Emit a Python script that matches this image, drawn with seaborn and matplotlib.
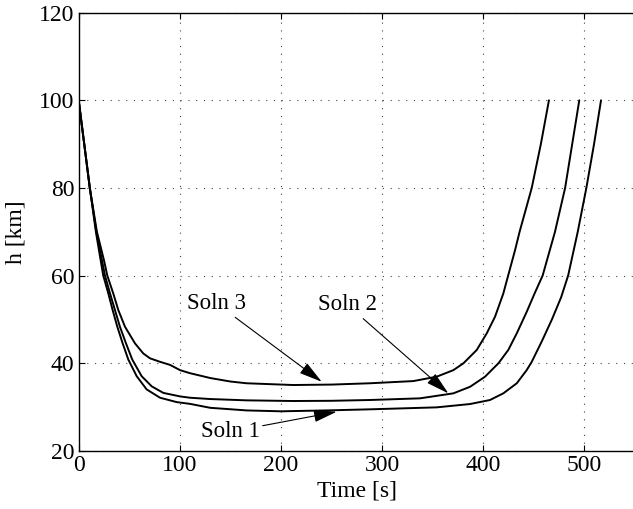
import matplotlib
matplotlib.use("Agg")
import matplotlib.pyplot as plt
import seaborn as sns
import pandas as pd

# Altitude histories of three trajectory solutions
t_soln1 = [0, 5.5, 11, 17, 21.7, 24.3, 29.3, 33.6, 38.2, 43.5, 49.1, 57.4, 67.2, 80.4,
           96.9, 110, 130, 166, 200, 245, 288, 354, 387, 406.7, 419.9, 433.2, 443,
           448, 458, 468, 477, 484, 493.5, 502, 509.6, 516.5]
h_soln1 = [100, 90, 80, 70, 63.5, 60, 55.9, 52.1, 48.3, 44.5, 40.8, 37, 34, 32.1,
           31.1, 30.7, 29.8, 29.2, 29.0, 29.2, 29.45, 29.9, 30.66, 31.58, 33.1, 35.4,
           38.4, 40.3, 45, 50, 55, 60, 70, 80, 90, 100]

t_soln2 = [0, 5.5, 11, 17.5, 23, 26, 31, 35.9, 40.8, 46.8, 53, 62.3, 72.2, 83.7,
           100.2, 110, 130, 166, 212, 250, 288, 337.5, 370.5, 387, 401.8, 415, 424.8,
           433.2, 443, 451, 458.8, 471, 481, 488, 495]
h_soln2 = [100, 90, 80, 70, 63.5, 60, 55.9, 52.1, 48.3, 44.5, 40.8, 37, 34.7, 33.2,
           32.4, 32.1, 31.8, 31.5, 31.35, 31.4, 31.58, 31.96, 33.1, 34.6, 36.9, 39.95,
           43, 46.8, 51.7, 56, 60, 70, 80, 90, 100]

t_soln3 = [0, 5.5, 11, 18, 25, 28.3, 34.2, 39.2, 45.8, 55.7, 63.9, 70.5, 80.4, 90.3,
           100.2, 110.1, 130, 150, 166, 212, 250, 288, 330.9, 354, 370.5, 380.4,
           393.6, 403.5, 411.7, 419.9, 424.8, 431.5, 436, 448, 457, 465]
h_soln3 = [100, 90, 80, 70, 63.5, 60, 55.9, 52.1, 48.3, 44.5, 42.2, 41.1, 40.3, 39.6,
           38.4, 37.7, 36.6, 35.8, 35.4, 35.0, 35.1, 35.4, 35.9, 36.9, 38.4, 39.95,
           43, 46.8, 50.6, 55.9, 60.1, 65.8, 70, 80, 90, 100]

labels = ["Soln 1", "Soln 2", "Soln 3"]
x_ticks = [0, 100, 200, 300, 400, 500]
y_ticks = [20, 40, 60, 80, 100, 120]

frames = []
for name, t, h in zip(labels, [t_soln1, t_soln2, t_soln3], [h_soln1, h_soln2, h_soln3]):
    frames.append(pd.DataFrame({"time": t, "h": h, "soln": name}))
df = pd.concat(frames, ignore_index=True)

sns.set_theme(style="ticks")
plt.rcParams["font.family"] = ["Liberation Serif", "DejaVu Serif"]
plt.rcParams["text.color"] = "black"
plt.rcParams["axes.labelcolor"] = "black"

fig = plt.figure(figsize=(6.33, 5.09), dpi=100)
ax = fig.add_axes([0.1243, 0.1145, 0.8787, 0.8605])

sns.lineplot(data=df, x="time", y="h", units="soln", estimator=None, sort=False,
             color="black", linewidth=1.4, ax=ax)

ax.set_xlim(0, 550)
ax.set_ylim(20, 120)
ax.set_xticks(x_ticks)
ax.set_yticks(y_ticks)
ax.tick_params(direction="in", length=4, width=0.8, labelsize=17, colors="black",
               top=True, right=False, pad=3)
ax.grid(True, linestyle=(0, (1, 6)), color="#444444", linewidth=0.8)
ax.spines["right"].set_visible(False)
for side in ["left", "bottom", "top"]:
    ax.spines[side].set_linewidth(1.0)
    ax.spines[side].set_color("black")

ax.set_xlabel("Time [s]", fontsize=17, labelpad=3)
ax.set_ylabel("h [km]", fontsize=17, labelpad=9)

arrow = dict(arrowstyle="-|>,head_length=1.3,head_width=0.35", color="black",
             lw=0.8, mutation_scale=11, shrinkA=0, shrinkB=0)
ax.annotate("Soln 3", xy=(240.3, 35.75), xytext=(136.5, 53.6), fontsize=16.5,
            ha="center", va="center", arrowprops=arrow)
ax.annotate("Soln 2", xy=(365.5, 33.1), xytext=(265.8, 53.3), fontsize=16.5,
            ha="center", va="center", arrowprops=arrow)
ax.annotate("Soln 1", xy=(255.1, 28.9), xytext=(149.6, 24.3), fontsize=16.5,
            ha="center", va="center", arrowprops=arrow)

fig.savefig("out.png", dpi=100)
